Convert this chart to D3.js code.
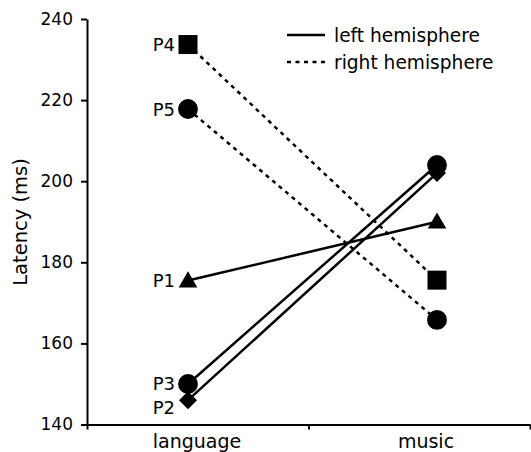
<!DOCTYPE html>
<html>
<head>
<meta charset="utf-8">
<script src="https://cdn.jsdelivr.net/npm/d3@7/dist/d3.min.js"></script>
<style>
  html, body { margin: 0; padding: 0; background: #fff; }
  svg { display: block; font-family: "DejaVu Sans", sans-serif; }
</style>
</head>
<body>
<svg id="chart" width="531" height="452"></svg>
<script>
// ---- data ----
const categories = ["language", "music"];
const participants = ["P1", "P2", "P3", "P4", "P5"];
const hemisphere = ["left", "left", "left", "right", "right"];
const markers = ["triangle", "diamond", "circle", "square", "circle"];
const languageLatency = [175.5, 146, 150, 233.7, 217.8];
const musicLatency = [190, 202, 204, 175.6, 165.8];
const yTicks = [140, 160, 180, 200, 220, 240];
const legendLabels = ["left hemisphere", "right hemisphere"];

// ---- layout ----
const svg = d3.select("#chart");
const axisLeftX = 87, axisRightX = 530, axisTop = 19, axisBottom = 424.5;

const y = d3.scaleLinear().domain([140, 240]).range([axisBottom, axisTop]);
const xBand = d3.scaleLinear().domain([0, 2]).range([axisLeftX, axisRightX]);
const xPoint = d3.scalePoint().domain(categories).range([188, 437]);
const labelX = { language: 197, music: 426 };

// y axis
const yAxis = d3.axisLeft(y).tickValues(yTicks).tickSize(6).tickSizeOuter(0).tickPadding(8);
const gy = svg.append("g").attr("transform", `translate(${axisLeftX},0)`).call(yAxis);
gy.select(".domain").attr("stroke", "#000").attr("stroke-width", 2);
gy.selectAll(".tick line").attr("stroke", "#000").attr("stroke-width", 2);
gy.selectAll(".tick text").attr("font-size", 17).attr("fill", "#000")
  .attr("font-family", "DejaVu Sans, sans-serif");

// x axis (ticks at category boundaries)
const xAxis = d3.axisBottom(xBand).tickValues([0, 1, 2]).tickSize(5).tickSizeOuter(0).tickFormat("");
const gx = svg.append("g").attr("transform", `translate(0,${axisBottom})`).call(xAxis);
gx.select(".domain").attr("stroke", "#000").attr("stroke-width", 2);
gx.selectAll(".tick line").attr("stroke", "#000").attr("stroke-width", 2);

svg.selectAll(".catlabel").data(categories).enter().append("text")
  .attr("class", "catlabel")
  .attr("x", d => labelX[d]).attr("y", 447.5)
  .attr("text-anchor", "middle").attr("font-size", 19).attr("fill", "#000")
  .text(d => d);

// y label
svg.append("text")
  .attr("transform", `translate(26.5,222) rotate(-90)`)
  .attr("text-anchor", "middle").attr("font-size", 19.5).attr("fill", "#000")
  .text("Latency (ms)");

// lines
const rows = participants.map((p, i) => ({
  name: p, hemi: hemisphere[i], marker: markers[i],
  vals: [languageLatency[i], musicLatency[i]]
}));

const line = d3.line().x((d, j) => xPoint(categories[j])).y(d => y(d));
svg.append("g").selectAll("path").data(rows).enter().append("path")
  .attr("d", d => line(d.vals))
  .attr("fill", "none").attr("stroke", "#000").attr("stroke-width", 2.5)
  .attr("stroke-dasharray", d => d.hemi === "right" ? "4,4.5" : null);

// markers
const symbolMap = {
  triangle: { type: d3.symbolTriangle, size: 150 },
  circle: { type: d3.symbolCircle, size: 310 },
  square: { type: d3.symbolSquare, size: 361 }
};
function markerPath(m) {
  if (m === "diamond") {
    const r = 9;
    return `M0,${-r}L${r},0L0,${r}L${-r},0Z`;
  }
  return d3.symbol().type(symbolMap[m].type).size(symbolMap[m].size)();
}
const gm = svg.append("g");
rows.forEach(r => {
  r.vals.forEach((v, j) => {
    const cx = xPoint(categories[j]);
    const dy = r.marker === "triangle" ? 1.5 : 0;
    gm.append("path").attr("d", markerPath(r.marker))
      .attr("transform", `translate(${cx},${y(v) + dy})`)
      .attr("fill", "#000");
  });
});

// participant labels
const labelDy = { P2: 7, P3: 0, P1: 0, P4: 0, P5: 0 };
svg.selectAll(".plabel").data(rows).enter().append("text")
  .attr("class", "plabel")
  .attr("x", xPoint("language") - 13)
  .attr("y", d => y(d.vals[0]) + labelDy[d.name] + 6.5)
  .attr("text-anchor", "end").attr("font-size", 18).attr("fill", "#000")
  .text(d => d.name);

// legend
const lg = svg.append("g");
legendLabels.forEach((t, i) => {
  const ly = 35 + i * 27;
  lg.append("line").attr("x1", 287).attr("x2", 325).attr("y1", ly).attr("y2", ly)
    .attr("stroke", "#000").attr("stroke-width", 2.5)
    .attr("stroke-dasharray", i === 1 ? "4,4.5" : null);
  lg.append("text").attr("x", 334).attr("y", ly + 6.5)
    .attr("font-size", 18.6).attr("fill", "#000").text(t);
});
</script>
</body>
</html>
